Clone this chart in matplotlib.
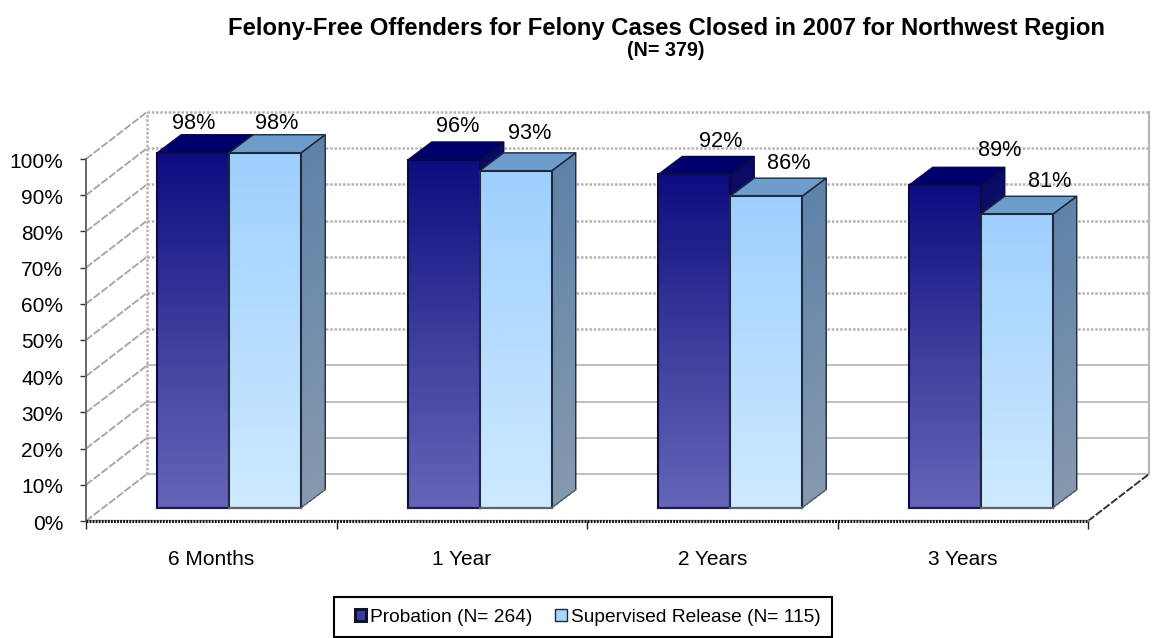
import numpy as np
import matplotlib
matplotlib.use("Agg")
import matplotlib.pyplot as plt
from matplotlib.colors import LinearSegmentedColormap
from matplotlib.patches import Patch, Polygon, Rectangle
from matplotlib.transforms import Affine2D

plt.rcParams['font.family'] = ['Liberation Sans', 'DejaVu Sans']

categories = ["6 Months", "1 Year", "2 Years", "3 Years"]
probation = [98, 96, 92, 89]
supervised = [98, 93, 86, 81]
y_ticks = list(range(0, 101, 10))
y_tick_labels = [f"{v}%" for v in y_ticks]
series_names = ["Probation (N= 264)", "Supervised Release (N= 115)"]
title_main = "Felony-Free Offenders for Felony Cases Closed in 2007 for Northwest Region"
title_sub = "(N= 379)"

W, H = 1153, 638
fig = plt.figure(figsize=(W / 100, H / 100), dpi=100)
AX_L, AX_R, AX_T, AX_B = 86, 1088, 159, 521
ax = fig.add_axes([AX_L / W, 1 - AX_B / H, (AX_R - AX_L) / W, (AX_B - AX_T) / H])
ax.set_xlim(0, 4)
ax.set_ylim(0, 100)

px_x = 4 / (AX_R - AX_L)
px_y = 100 / (AX_B - AX_T)
WALL = (61 * px_x, 47 * px_y)
PLANE = (18 * px_x, 13.5 * px_y)
DEPTH = (24 * px_x, 18 * px_y)
BAR_W = 72 * px_x

cm_dark = LinearSegmentedColormap.from_list("d", ["#6464B8", "#3C3C9C", "#0C0C80"])
cm_light = LinearSegmentedColormap.from_list("l", ["#CDE9FF", "#9ECFFF"])
cm_side = LinearSegmentedColormap.from_list("s", ["#8699AE", "#5E82A8"])
cm_dside = LinearSegmentedColormap.from_list("ds", ["#30306A", "#0A0A66"])

GRID = "#b4b4b4"
DOT = (0, (1, 0.7))

# back wall and side wall
for v in y_ticks:
    solid = v <= 30
    ls = "-" if solid else DOT
    lw = 1.2 if solid else 1.8
    ax.plot([WALL[0], 4 + WALL[0]], [v + WALL[1]] * 2, color=GRID, lw=lw, ls=ls,
            clip_on=False, zorder=1)
    ax.plot([0, WALL[0]], [v, v + WALL[1]], color="#a8a8a8", lw=1.4, ls=(0, (4, 1)),
            clip_on=False, zorder=1)
ax.plot([WALL[0]] * 2, [WALL[1], 100 + WALL[1]], color=GRID, lw=1.8, ls=DOT, clip_on=False, zorder=1)
ax.plot([4 + WALL[0]] * 2, [WALL[1], 100 + WALL[1]], color=GRID, lw=1.5, clip_on=False, zorder=1)
ax.plot([4, 4 + WALL[0]], [0, WALL[1]], color="#333333", lw=1.4, ls=(0, (4, 1)), clip_on=False, zorder=1)
ax.plot([0, 4], [1.5 * px_y] * 2, color="#aaaaaa", lw=1, clip_on=False, zorder=1)


def quad(p0, p1, p2, p3, cmap, z):
    """Vertical gradient quad: p0-p1 bottom edge, p3-p2 top edge."""
    t = np.linspace(0, 1, 81)[:, None]
    X = np.array([p0[0], p1[0]])[None, :] * (1 - t) + np.array([p3[0], p2[0]])[None, :] * t
    Y = np.array([p0[1], p1[1]])[None, :] * (1 - t) + np.array([p3[1], p2[1]])[None, :] * t
    C = ((t[:-1] + t[1:]) / 2)
    ax.pcolormesh(X, Y, C, cmap=cmap, vmin=0, vmax=1, shading="flat", clip_on=False,
                  zorder=z, rasterized=True, linewidth=0)


def bar3d(x0, v, cmap, side_cmap, top_col, edge_top, edge_bottom, z):
    x1 = x0 + BAR_W
    y0 = PLANE[1]
    yt = v + PLANE[1]
    dx, dy = DEPTH
    quad((x1, y0), (x1 + dx, y0 + dy), (x1 + dx, yt + dy), (x1, yt), side_cmap, z)
    ax.add_patch(Polygon([(x0, yt), (x1, yt), (x1 + dx, yt + dy), (x0 + dx, yt + dy)],
                         closed=True, fc=top_col, ec=edge_top, lw=1, clip_on=False, zorder=z))
    quad((x0, y0), (x1, y0), (x1, yt), (x0, yt), cmap, z)
    ax.plot([x0, x1, x1, x0, x0], [y0, y0, yt, yt, y0], color=edge_top, lw=1.5,
            clip_on=False, zorder=z + 0.1, solid_joinstyle="miter")
    ax.plot([x0, x1], [y0, y0], color=edge_bottom, lw=1.5, clip_on=False, zorder=z + 0.1)
    ax.plot([x1, x1 + dx, x1 + dx], [yt, yt + dy, y0 + dy], color=edge_top, lw=1,
            clip_on=False, zorder=z + 0.1)
    ax.plot([x1 + dx, x1], [y0 + dy, y0], color=edge_bottom, lw=1, clip_on=False, zorder=z + 0.1)


for i, (a, b) in enumerate(zip(probation, supervised)):
    left = i + 0.5 + PLANE[0] - BAR_W
    bar3d(left, a, cm_dark, cm_dside, "#00006C", "#0A0A40", "#1C1C50", 2 + i * 2)
    bar3d(left + BAR_W, b, cm_light, cm_side, "#6E9CCB", "#1E2A3C", "#5A6470", 3 + i * 2)

# value labels, offset in pixels from the top centre of the bar front
label_off_a = [(0, 29), (14, 33), (26, 33), (55, 35)]
label_off_b = [(11, 29), (14, 37), (23, 33), (33, 33)]
for i, (a, b) in enumerate(zip(probation, supervised)):
    for v, off, cx in ((a, label_off_a[i], -BAR_W / 2), (b, label_off_b[i], BAR_W / 2)):
        ax.annotate(f"{v}%", (i + 0.5 + PLANE[0] + cx, v + PLANE[1]),
                    xytext=(off[0] * 0.72, off[1] * 0.72), textcoords="offset points",
                    ha="center", va="center", fontsize=15.6, color="black",
                    annotation_clip=False, zorder=20)

# axes
ax.set_yticks(y_ticks)
ax.set_yticklabels(y_tick_labels, fontsize=15)
ax.set_xticks([0, 1, 2, 3, 4])
ax.set_xticklabels([])
ax.set_xticks([0.5, 1.5, 2.5, 3.5], labels=categories, minor=True, fontsize=15)
ax.tick_params(axis="y", length=4.5, width=1, color="#333333", pad=12)
ax.tick_params(axis="x", which="major", length=6, width=1, color="#222222")
ax.tick_params(axis="x", which="minor", length=0, pad=21)
for lab in ax.get_yticklabels():
    lab.set_transform(lab.get_transform() + Affine2D().translate(0, -1))
for s in ("top", "right"):
    ax.spines[s].set_visible(False)
ax.spines["left"].set_color("#666666")
ax.spines["left"].set_linewidth(1.4)
ax.spines["bottom"].set_color("#111111")
ax.spines["bottom"].set_linewidth(2.2)
ax.spines["bottom"].set_linestyle((0, (0.6, 0.4)))
ax.spines["bottom"].set_capstyle("butt")
ax.patch.set_visible(False)

# titles
fig.text(666 / W, 1 - 28 / H, title_main, ha="center", va="center", fontsize=17.2, fontweight="bold")
fig.text(666 / W, 1 - 50.5 / H, title_sub, ha="center", va="center", fontsize=14.2, fontweight="bold")

# legend
handles = [Patch(facecolor="#3C3C9C", edgecolor="#101030", linewidth=2.2, label=series_names[0]),
           Patch(facecolor="#A8D6FF", edgecolor="#1E2A3C", linewidth=1.0, label=series_names[1])]
leg = fig.legend(handles=handles, loc="center", bbox_to_anchor=(587.5 / W, 1 - 617 / H),
                 ncol=2, fontsize=13.8, frameon=False, handlelength=0.6, handleheight=0.6,
                 handletextpad=0.2, columnspacing=1.2, borderpad=0, borderaxespad=0)
fig.add_artist(Rectangle((333.5 / W, 1 - 637 / H), 498 / W, 40 / H, transform=fig.transFigure,
                         fc="white", ec="black", lw=1.5, zorder=0))

fig.savefig("out.png", dpi=100)
